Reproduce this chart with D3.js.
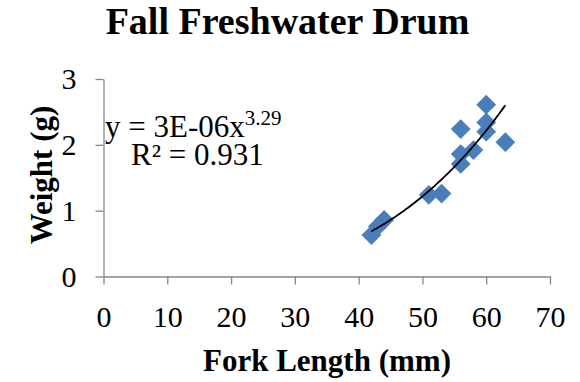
<!DOCTYPE html>
<html>
<head>
<meta charset="utf-8">
<script src="https://cdn.jsdelivr.net/npm/d3@7"></script>
<style>
  html, body { margin: 0; padding: 0; background: #fff; }
  svg { display: block; }
  svg text { font-family: "Liberation Serif", "Times New Roman", serif; fill: #000; }
</style>
</head>
<body>
<svg id="chart" width="580" height="382"></svg>
<script>
// Fork length (mm) and weight (g) of fall-sampled freshwater drum
const forkLength = [42, 43, 44, 51, 53, 56, 56, 56, 58, 60, 60, 60, 63];
const weight     = [0.63, 0.76, 0.86, 1.24, 1.26, 1.71, 1.86, 2.24, 1.92, 2.20, 2.34, 2.61, 2.04];

const xTicks = [0, 10, 20, 30, 40, 50, 60, 70];
const yTicks = [0, 1, 2, 3];

// Power trendline y = a·x^b
const powerA = 3.13e-6;
const powerB = 3.29;
const rSquared = 0.931;

const svg = d3.select("#chart");
const x = d3.scaleLinear().domain([0, 70]).range([103.5, 550]);
const y = d3.scaleLinear().domain([0, 3]).range([276.5, 79]);
const axisColor = "#868686";

// Axes
const xAxis = svg.append("g")
  .attr("transform", `translate(0,${y(0)})`)
  .call(d3.axisBottom(x).tickValues(xTicks).tickFormat(d3.format("d"))
    .tickSize(8).tickPadding(21).tickSizeOuter(0));
const yAxis = svg.append("g")
  .attr("transform", `translate(${x(0)},0)`)
  .call(d3.axisLeft(y).tickValues(yTicks).tickFormat(d3.format("d"))
    .tickSize(8).tickPadding(19).tickSizeOuter(0));

[xAxis, yAxis].forEach(g => {
  g.attr("font-family", null).attr("font-size", 30);
  g.select(".domain").attr("stroke", axisColor).attr("stroke-width", 1.3);
  g.selectAll(".tick line").attr("stroke", axisColor).attr("stroke-width", 1.3);
  g.selectAll(".tick text").attr("fill", "#000");
});

// Data points as diamonds
svg.append("g").selectAll("path")
  .data(forkLength.map((d, i) => [d, weight[i]]))
  .join("path")
  .attr("transform", d => `translate(${x(d[0])},${y(d[1])}) rotate(45)`)
  .attr("d", "M-7,-7H7V7H-7Z")
  .attr("fill", "#4a7ebb");

// Trendline over the observed range
const fitX = d3.range(42, 63.01, 0.25);
svg.append("path")
  .datum(fitX)
  .attr("fill", "none")
  .attr("stroke", "#000")
  .attr("stroke-width", 1.8)
  .attr("d", d3.line().x(d => x(d)).y(d => y(powerA * Math.pow(d, powerB))));

// Equation and R²
const eq = svg.append("text").attr("x", 105).attr("y", 137).attr("font-size", 31);
eq.append("tspan").text("y = 3E-06x");
eq.append("tspan").attr("dy", -12).attr("font-size", 21).text(powerB.toFixed(2));
svg.append("text").attr("x", 131).attr("y", 165).attr("font-size", 31)
  .text(`R² = ${rSquared}`);

// Title and axis titles
svg.append("text").attr("x", 287.5).attr("y", 34).attr("text-anchor", "middle")
  .attr("font-size", 38).attr("font-weight", "bold").text("Fall Freshwater Drum");
svg.append("text").attr("x", 327).attr("y", 371).attr("text-anchor", "middle")
  .attr("font-size", 31).attr("font-weight", "bold").text("Fork Length (mm)");
svg.append("text").attr("transform", "translate(52,175) rotate(-90)").attr("text-anchor", "middle")
  .attr("font-size", 31).attr("font-weight", "bold").text("Weight (g)");
</script>
</body>
</html>
